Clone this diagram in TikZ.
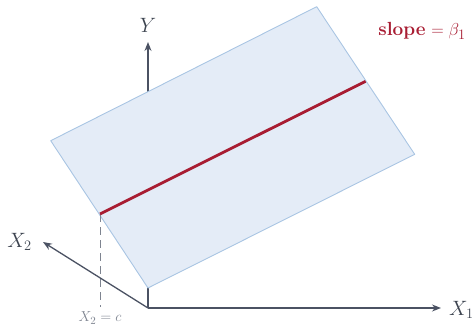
\documentclass[tikz,border=0pt]{standalone}
\usetikzlibrary{arrows.meta}
\definecolor{axiscol}{HTML}{4B5263}
\definecolor{labcol}{HTML}{3D4450}
\definecolor{dashcol}{HTML}{7E8490}
\definecolor{planefill}{HTML}{E4ECF7}
\definecolor{planeedge}{HTML}{A9C5E3}
\definecolor{slopered}{HTML}{A81C32}
\begin{document}
\begin{tikzpicture}[x=1pt,y=-1pt,
  axis/.style={draw=axiscol, line width=1.3pt, -{Stealth[length=9pt,width=7pt]}},
  plane/.style={fill=planefill, draw=planeedge, line width=0.9pt, line join=round},
  redline/.style={draw=slopered, line width=2.8pt},
  dashline/.style={draw=dashcol, line width=0.9pt, dash pattern=on 8pt off 5pt},
  lbl/.style={text=labcol, font=\fontsize{20}{24}\selectfont, inner sep=0pt},
  smalllbl/.style={text=dashcol, font=\fontsize{15}{18}\selectfont, inner sep=0pt},
  redlbl/.style={text=slopered, font=\fontsize{19}{23}\selectfont, inner sep=0pt}]
\useasboundingbox (0,0) rectangle (474,326);
% named points
\coordinate (O) at (148,308);
\coordinate (Yt) at (148,42);
\coordinate (X1t) at (441,308);
\coordinate (X2t) at (43,242);
\coordinate (PB) at (148,288);
\coordinate (PL) at (50.7,140.7);
\coordinate (PT) at (316.7,6.7);
\coordinate (PR) at (414.7,154.3);
\coordinate (RL) at (100,214);
\coordinate (RR) at (365.6,81.3);
\coordinate (D) at (100,307);
% axes
\draw[axis] (O) -- (Yt);
\draw[axis] (O) -- (X1t);
\draw[axis] (O) -- (X2t);
% plane
\path[plane] (PB) -- (PL) -- (PT) -- (PR) -- cycle;
% dashed guide
\draw[dashline] (RL) -- (D);
% regression line
\draw[redline] (RL) -- (RR);
% labels
\node[lbl] (Ylab) at (148,25) {$Y$};
\node[lbl, anchor=west] (X1lab) at (449,310) {$X_1$};
\node[lbl, anchor=east] (X2lab) at (32,242) {$X_2$};
\node[smalllbl] (clab) at (100,318) {$X_2=c$};
\node[redlbl] (slab) at (422,31) {\textbf{slope} $=\beta_1$};
\end{tikzpicture}
\end{document}
